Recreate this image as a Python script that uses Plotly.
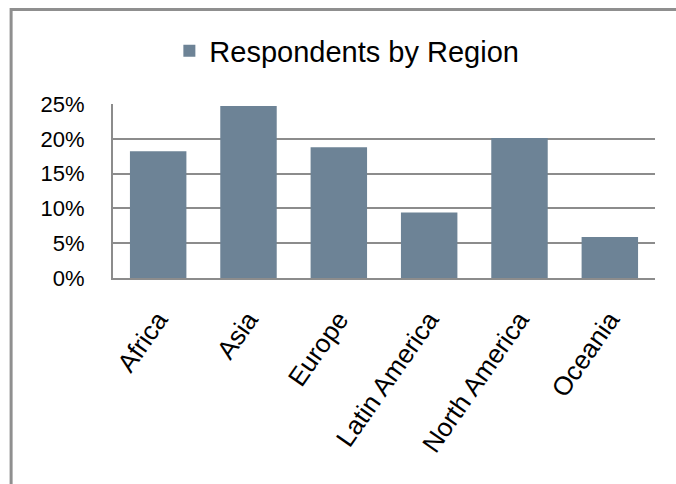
import plotly.graph_objects as go

# Data
regions = ["Africa", "Asia", "Europe", "Latin America", "North America", "Oceania"]
share = [0.182, 0.247, 0.188, 0.094, 0.201, 0.059]
series_name = "Respondents by Region"

FONT = "Liberation Sans, Arial, sans-serif"
GRID = "#8c8c8c"

fig = go.Figure()
fig.add_trace(go.Bar(
    x=regions,
    y=share,
    name=series_name,
    marker=dict(color="#6d8396", line=dict(width=0)),
    showlegend=True,
))

# Outer chart frame (runs off the right and bottom edges like the reference)
fig.add_shape(
    type="rect", xref="paper", yref="paper",
    x0=-0.188, x1=1.25, y0=-1.5, y1=1.543,
    line=dict(color="#8f8f8f", width=3),
    fillcolor="rgba(0,0,0,0)", layer="below",
)

fig.update_layout(
    width=676,
    height=484,
    margin=dict(l=113, r=21, t=104, b=206),
    paper_bgcolor="white",
    plot_bgcolor="white",
    bargap=0.375,
    font=dict(family=FONT, color="#000000", size=21),
    showlegend=True,
    legend=dict(
        orientation="h",
        x=0.104, xanchor="left",
        y=1.305, yanchor="middle",
        font=dict(size=29, family=FONT),
        itemwidth=30,
        bgcolor="rgba(0,0,0,0)",
    ),
    xaxis=dict(
        showline=True, linecolor=GRID, linewidth=2,
        showgrid=False, ticks="",
        tickangle=-55,
        tickfont=dict(size=26),
        ticklabelstandoff=14,
    ),
    yaxis=dict(
        range=[0, 0.25],
        dtick=0.05,
        tickformat=".0%",
        showline=True, linecolor=GRID, linewidth=2,
        showgrid=True, gridcolor=GRID, gridwidth=2,
        zeroline=False,
        ticks="",
        tickfont=dict(size=22),
        ticklabelstandoff=22,
    ),
)

fig.write_html(
    "out.html",
    config={"displayModeBar": False},
    post_script="document.body.style.margin='0';document.body.style.overflow='hidden';",
)
